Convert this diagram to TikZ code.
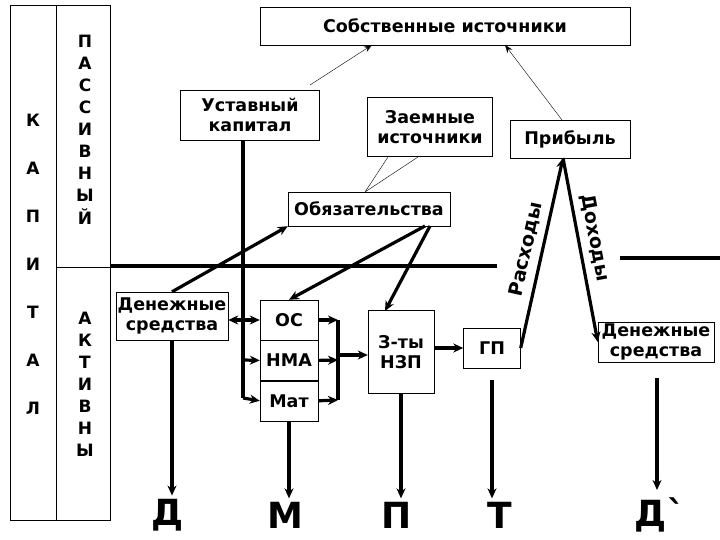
\documentclass[tikz,border=0pt]{standalone}
\usepackage{fontspec}
\setmainfont{DejaVu Sans}
\usetikzlibrary{arrows.meta,positioning}

\begin{document}
\begin{tikzpicture}[x=1pt,y=-1pt,
	box/.style={draw,thin,align=center,inner sep=1pt,font=\bfseries\fontsize{17.5}{19.5}\selectfont},
	big/.style={font=\bfseries\fontsize{36}{38}\selectfont},
	lt/.style={font=\bfseries\fontsize{17}{19}\selectfont},
	thk/.style={line width=3.2pt,-{Stealth[length=10pt,width=9pt]}},
	thn/.style={thin,-{Stealth[length=8pt,width=6pt]}},
	lbl/.style={sloped,font=\bfseries\fontsize{19}{21}\selectfont}]
	\useasboundingbox (0,0) rectangle (720,540);
	% left columns
	\draw (10,5) rectangle (56,520);
	\draw (56,5) rectangle (110,520);
	\draw (56,267) -- (110,267);
	\foreach \l [count=\i] in {К,А,П,И,Т,А,Л}
		\node[lt] (kap\i) at (33,72+48*\i) {\l};
	\foreach \l [count=\i] in {П,А,С,С,И,В,Н,Ы,Й}
		\node[lt] (pas\i) at (85,19+22*\i) {\l};
	\foreach \l [count=\i] in {А,К,Т,И,В,Н,Ы}
		\node[lt] (akt\i) at (85,296+22*\i) {\l};
	% separating line
	\draw[line width=4.5pt] (110,266) -- (497,266);
	\draw[line width=4.5pt] (620,258) -- (720,258);
	% boxes
	\node[box,minimum width=370,minimum height=38] (sob) at (445,26) {Собственные источники};
	\node[box,minimum width=139,minimum height=50] (uk) at (250,115) {Уставный\\капитал};
	\node[box,minimum width=125,minimum height=59] (zaem) at (430,127) {Заемные\\источники};
	\node[box,minimum width=120,minimum height=38] (prib) at (570,139) {Прибыль};
	\node[box,minimum width=162,minimum height=34] (obz) at (369,209) {Обязательства};
	\node[box,minimum width=112,minimum height=48] (dsl) at (172,316) {Денежные\\средства};
	\node[box,minimum width=58,minimum height=40] (os) at (289,320) {ОС};
	\node[box,minimum width=58,minimum height=40,below=0pt of os] (nma) {НМА};
	\node[box,minimum width=58,minimum height=40,below=0pt of nma] (mat) {Мат};
	\node[box,minimum width=66,minimum height=83] (nzp) at (401,352) {З-ты\\НЗП};
	\node[box,minimum width=57,minimum height=40] (gp) at (492,348) {ГП};
	\node[box,minimum width=116,minimum height=40] (dsr) at (656,342) {Денежные\\средства};
	% bottom letters
	\node[big] (D) at (168,515) {Д};
	\node[big] (M) at (285,515) {М};
	\node[big] (P) at (397,515) {П};
	\node[big] (T) at (500,515) {Т};
	\node[big] (D2) at (660,515) {Д\textasciigrave};
	\coordinate (bk) at (338,355);
	% connectors
	\draw[thn] (310,85) -- (372,45);
	\draw[thn] (562,120) -- (505,45);
	\draw[thin] (388,157) -- (365,192) -- (418,157);
	\draw[thk] (dsl.north) -- (obz.south west);
	\draw[thk] (425,226) -- (os.north);
	\draw[thk] (430,226) -- (385,311);
	\draw[line width=3.2pt,{Stealth[length=10pt,width=9pt]}-{Stealth[length=10pt,width=9pt]}] (dsl.east |- os) -- (os.west);
	\draw[line width=3.2pt] (243,140) -- (243,398);
	\draw[thk] (243,360) -- (nma.west);
	\draw[thk] (243,398) -- (mat.west);
	\draw[thk] (os.east) -- (338,320);
	\draw[thk] (nma.east) -- (338,360);
	\draw[thk] (mat.east) -- (338,400);
	\draw[line width=3.2pt] (338,320) -- (338,400);
	\draw[thk] (bk) -- (nzp.west |- bk);
	\draw[thk] (nzp.east |- gp) -- (gp.west);
	\draw[thk] (gp.east) -- node[lbl,pos=0.5,above=3pt] {Расходы} (563,158);
	\draw[thk] (563,158) -- node[lbl,pos=0.45,above=3pt] {Доходы} (dsr.west);
	\draw[thk] (dsl.south) -- (dsl.south |- D.north);
	\draw[thk] (mat.south) -- (mat.south |- M.north);
	\draw[thk] (nzp.south) -- (nzp.south |- P.north);
	\draw[thk] (gp.south |- 380,380) -- (gp.south |- T.north);
	\draw[thk] (657,378) -- (657,490);
\end{tikzpicture}
\end{document}
